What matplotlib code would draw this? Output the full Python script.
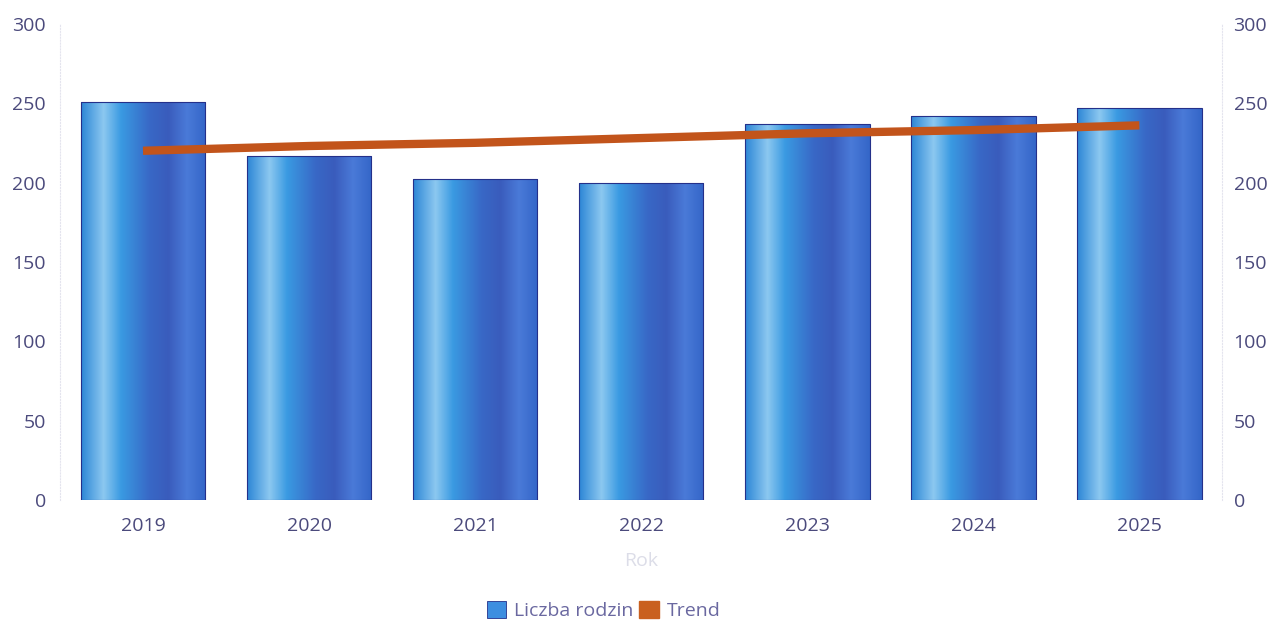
import numpy as np
import matplotlib
matplotlib.use("Agg")
import matplotlib.pyplot as plt
from matplotlib.colors import LinearSegmentedColormap
from matplotlib.patches import Patch

plt.rcParams['font.family'] = ['Open Sans', 'DejaVu Sans']

years = ['2019', '2020', '2021', '2022', '2023', '2024', '2025']
families = [251, 217, 202, 200, 237, 242, 247]
trend = [220, 223, 225, 228, 231, 233, 236]

tick_color = '#4b4a7c'
bar_cmap = LinearSegmentedColormap.from_list('bar', [
    (0.0, '#2c86d6'), (0.18, '#8cc8f0'), (0.32, '#3a9ae2'),
    (0.55, '#3868c6'), (0.7, '#3a5cbc'), (0.85, '#4a7ad8'), (1.0, '#3466c8')])

fig = plt.figure(figsize=(12.76, 6.23), dpi=100)
ax = fig.add_axes([0.047, 0.197, 0.911, 0.765])
x = np.arange(len(years))
width = 0.75
bars = ax.bar(x, families, width=width, color='none', edgecolor='#24308a', linewidth=0.8, zorder=2)
grad = np.linspace(0, 1, 256).reshape(1, -1)
for b in bars:
    im = ax.imshow(grad, cmap=bar_cmap, aspect='auto', zorder=1.5,
                   extent=[b.get_x(), b.get_x() + b.get_width(), 0, b.get_height()])
    im.set_clip_path(b)
ax.plot(x, trend, color='#c2541b', linewidth=6, solid_capstyle='butt', zorder=3)

ax.set_xlim(-0.5, len(years) - 0.5)
ax.set_ylim(0, 300)
ax.set_yticks([0, 50, 100, 150, 200, 250, 300])
ax.set_xticks(x)
ax.set_xticklabels(years)
ax.tick_params(axis='both', length=0, labelsize=14, colors=tick_color, pad=12)
ax.tick_params(axis='y', pad=10)
for s in ['top', 'bottom']:
    ax.spines[s].set_visible(False)
for s in ['left', 'right']:
    ax.spines[s].set_color('#e4e4ee')
    ax.spines[s].set_linestyle(':')
ax.set_xlabel('Rok', color='#dcdde8', fontsize=14, labelpad=12)

ax2 = ax.twinx()
ax2.set_ylim(0, 300)
ax2.set_yticks([0, 50, 100, 150, 200, 250, 300])
ax2.tick_params(axis='y', length=0, labelsize=14, colors=tick_color, pad=8)
for s in ax2.spines.values():
    s.set_visible(False)

handles = [Patch(facecolor='#3d8ee0', edgecolor='#24308a', linewidth=0.6),
           Patch(facecolor='#c9601f', edgecolor='#c9601f')]
fig.legend(handles, ['Liczba rodzin', 'Trend'], loc='center', bbox_to_anchor=(0.473, 0.02),
           ncol=2, frameon=False, fontsize=14, labelcolor='#6a68a0',
           handlelength=1.0, handleheight=1.0, handletextpad=0.4, columnspacing=0.3)

fig.savefig('out.png', dpi=100)
